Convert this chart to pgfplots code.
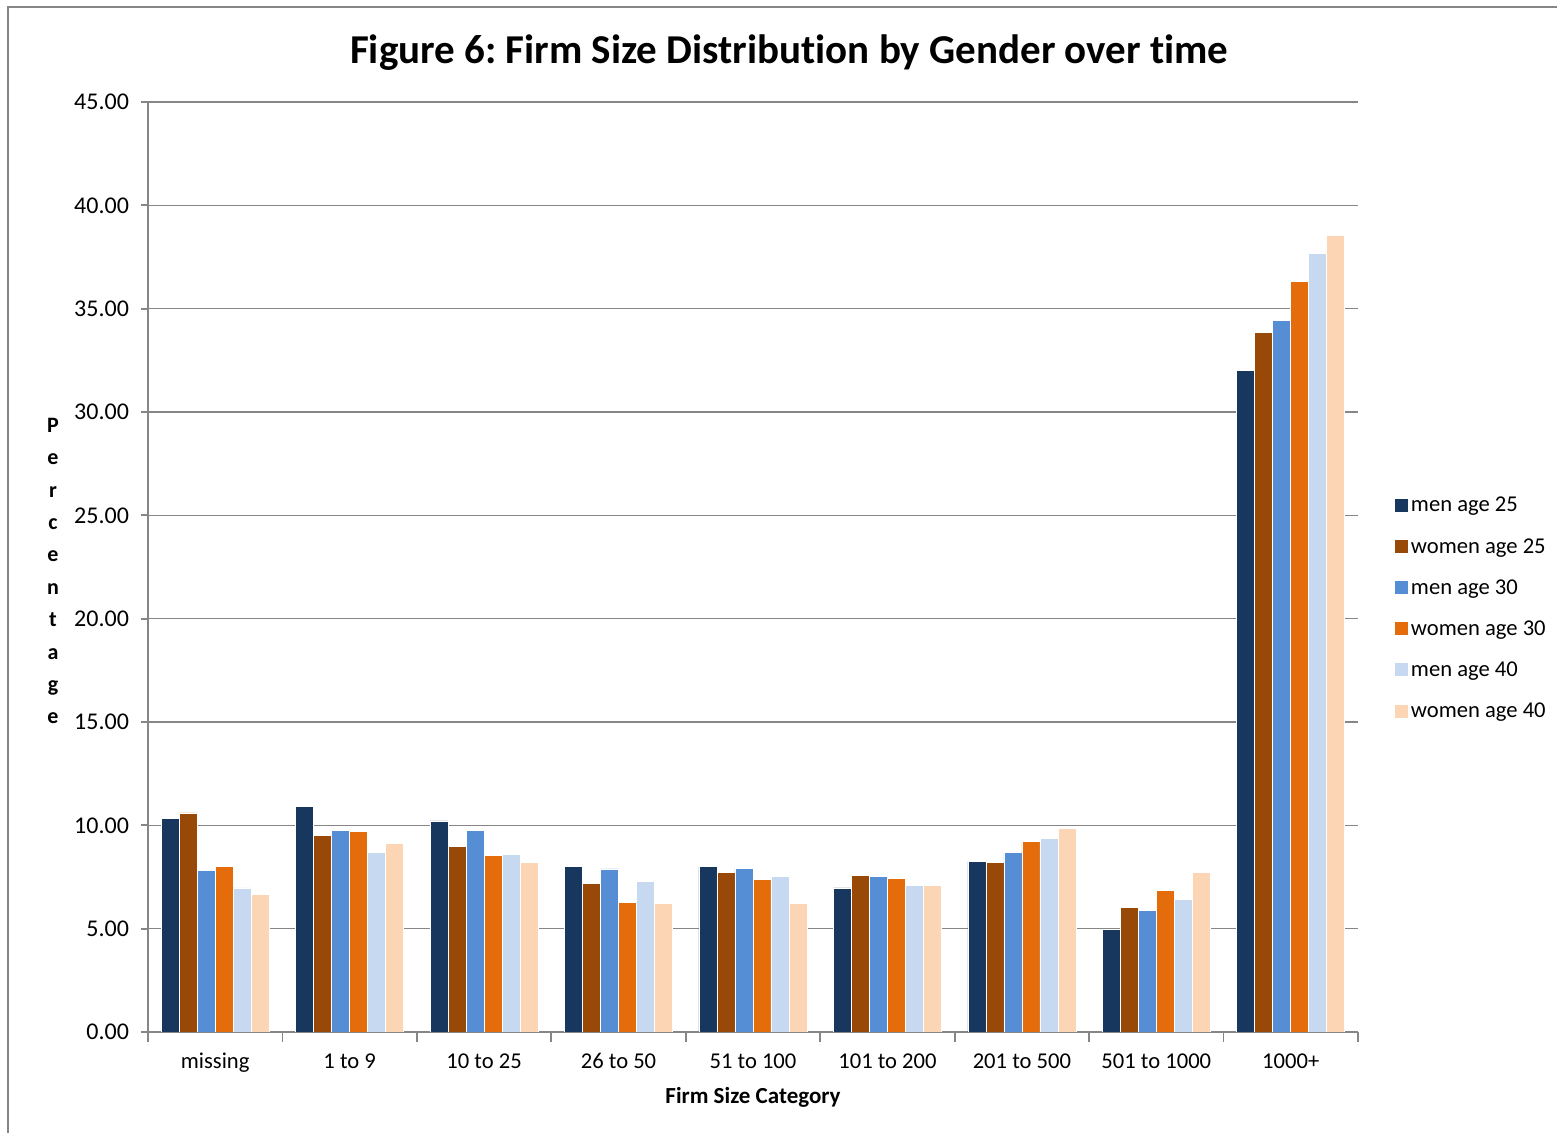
\documentclass[border=0pt]{standalone}
\usepackage{pgfplots}
\pgfplotsset{compat=1.18}
\usepackage{fontspec}
\setmainfont[Ligatures=NoCommon]{Carlito}
\frenchspacing
\definecolor{cA}{HTML}{17375E}
\definecolor{cB}{HTML}{984807}
\definecolor{cC}{HTML}{558ED5}
\definecolor{cD}{HTML}{E46C0A}
\definecolor{cE}{HTML}{C6D9F1}
\definecolor{cF}{HTML}{FCD5B5}
\definecolor{axgray}{HTML}{868686}
\begin{document}
\begin{tikzpicture}
\path[use as bounding box] (0,0) rectangle (778.5pt,566.5pt);
\draw[color=axgray, line width=0.8pt] (4pt,0) -- (4pt,563pt) -- (778.5pt,563pt);
\begin{axis}[
  at={(74pt,50.5pt)}, anchor=south west,
  scale only axis, width=605pt, height=465pt,
  ybar=0pt, bar width=9pt,
  xmin=-0.5, xmax=8.5, ymin=0, ymax=45,
  ytick={0,5,...,45},
  xtick={0,...,8},
  xticklabels={missing,1 to 9,10 to 25,26 to 50,51 to 100,101 to 200,201 to 500,501 to 1000,1000+},
  minor xtick={-0.5,0.5,...,8.5},
  axis x line*=bottom, axis y line*=left,
  axis line style={color=axgray, line width=0.9pt},
  ymajorgrids, grid style={color=axgray, line width=0.8pt},
  tick align=outside,
  major tick length=3.5pt, minor tick length=5pt,
  tick style={color=axgray, line width=0.9pt},
  major x tick style={draw=none},
  /pgf/number format/assume math mode=true,
  yticklabel={\pgfmathprintnumber[fixed,fixed zerofill,precision=2]{\tick}},
  xticklabel style={font=\fontsize{11.3}{13}\selectfont, yshift=-3pt, text height=8pt, text depth=2.5pt},
  yticklabel style={font=\fontsize{12}{14}\selectfont, xshift=-2.5pt},
  title={\bfseries Figure 6: Firm Size Distribution by Gender over time},
  title style={at={(axis description cs:0.53,1)}, anchor=base, yshift=13pt, font=\fontsize{20.5}{24}\selectfont},
  xlabel={\bfseries Firm Size Category},
  xlabel style={font=\fontsize{11.5}{13}\selectfont, yshift=-0.5pt},
  every axis y label/.style={at={(axis description cs:0,0.5)}, anchor=center, xshift=-47.5pt, yshift=-2pt, align=center, font=\bfseries\fontsize{11}{16.2}\selectfont},
  ylabel={P\\e\\r\\c\\e\\n\\t\\a\\g\\e},
  legend style={at={(axis description cs:1,0.457)}, anchor=west, xshift=15pt, yshift=-1.5pt, draw=none, fill=none,
    font=\fontsize{11.3}{13}\selectfont, row sep=8.6pt,
    nodes={inner sep=1pt, text height=7.5pt, text depth=2.5pt}},
  legend cell align=left,
  legend image code/.code={\fill[#1] (0pt,-2.5pt) rectangle (7pt,4.5pt);},
]
\addplot[fill=cA, draw=white, line width=0.3pt] coordinates {(0,10.32) (1,10.90) (2,10.21) (3,8.03) (4,8.00) (5,6.97) (6,8.24) (7,4.98) (8,32.01)};
\addplot[fill=cB, draw=white, line width=0.3pt] coordinates {(0,10.60) (1,9.53) (2,8.98) (3,7.18) (4,7.71) (5,7.58) (6,8.20) (7,6.02) (8,33.85)};
\addplot[fill=cC, draw=white, line width=0.3pt] coordinates {(0,7.81) (1,9.76) (2,9.76) (3,7.89) (4,7.92) (5,7.52) (6,8.68) (7,5.87) (8,34.43)};
\addplot[fill=cD, draw=white, line width=0.3pt] coordinates {(0,8.00) (1,9.72) (2,8.56) (3,6.26) (4,7.37) (5,7.42) (6,9.21) (7,6.84) (8,36.30)};
\addplot[fill=cE, draw=white, line width=0.3pt] coordinates {(0,6.97) (1,8.69) (2,8.60) (3,7.29) (4,7.53) (5,7.11) (6,9.37) (7,6.42) (8,37.66)};
\addplot[fill=cF, draw=white, line width=0.3pt] coordinates {(0,6.66) (1,9.14) (2,8.21) (3,6.21) (4,6.21) (5,7.11) (6,9.85) (7,7.71) (8,38.54)};
\legend{men age 25,women age 25,men age 30,women age 30,men age 40,women age 40}
\end{axis}
\end{tikzpicture}
\end{document}
